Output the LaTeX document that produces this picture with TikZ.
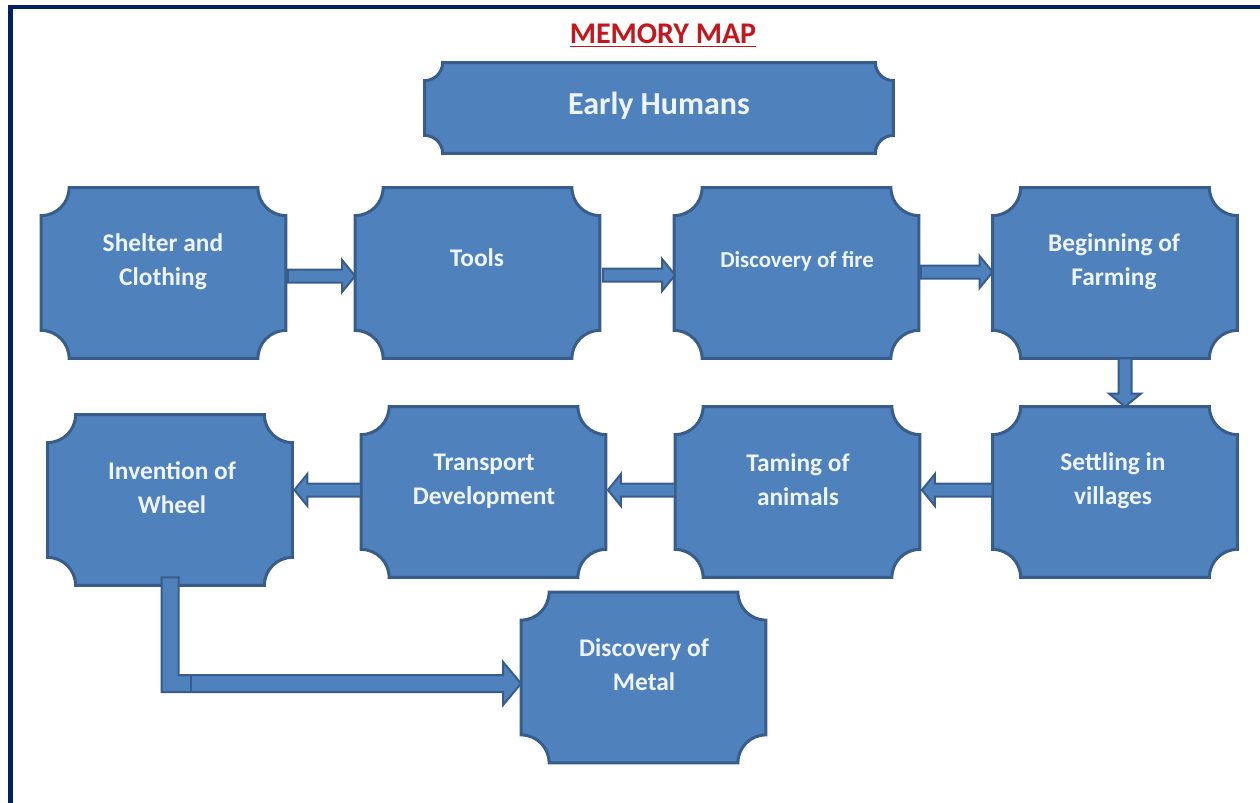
\documentclass[tikz,border=0pt]{standalone}
\usepackage{fontspec}
\setmainfont{Carlito}
\usepackage{tikz}
\usetikzlibrary{calc}

\definecolor{boxblue}{RGB}{79,129,189}
\definecolor{boxedge}{RGB}{56,93,138}
\definecolor{boxtext}{RGB}{238,244,252}
\definecolor{framenavy}{RGB}{0,32,96}
\definecolor{titlered}{RGB}{196,22,28}

% plaque round a node, concave corners of radius #2
\newcommand{\plaque}[2]{%
  \path[plaque] let \p1=(#1.south west), \p2=(#1.north east) in
    (\x1+#2,\y1) -- (\x2-#2,\y1) arc (180:90:#2) -- (\x2,\y2-#2) arc (270:180:#2)
    -- (\x1+#2,\y2) arc (0:-90:#2) -- (\x1,\y1+#2) arc (90:0:#2) -- cycle;}

% block arrow from #1 to #2
\newcommand{\blockarrow}[2]{%
  \coordinate (tail) at #1;
  \coordinate (tip) at #2;
  \coordinate (neck) at ($(tip)!6.5pt!(tail)$);
  \path[arrowbody] ($(tail)!3.25pt!90:(tip)$) -- ($(neck)!3.25pt!90:(tip)$)
    -- ($(neck)!8pt!90:(tip)$) -- (tip) -- ($(neck)!8pt!-90:(tip)$)
    -- ($(neck)!3.25pt!-90:(tip)$) -- ($(tail)!3.25pt!-90:(tip)$) -- cycle;}

\begin{document}
\begin{tikzpicture}
  [x=0.5pt,y=0.5pt,
   box/.style={minimum width=122pt, minimum height=85pt, inner sep=0pt},
   plaque/.style={fill=boxblue, draw=boxedge, line width=1.5pt},
   arrowbody/.style={fill=boxblue, draw=boxedge, line width=1pt},
   txt/.style={text=boxtext, align=center, font=\fontsize{12.7}{17}\selectfont\bfseries},
   title/.style={text=titlered, font=\fontsize{15}{18}\selectfont\bfseries},
   frame/.style={draw=framenavy, line width=2.4pt}]
  \useasboundingbox (0,0) rectangle (1260,-803);
  \draw [frame] (10.5,-803) -- (10.5,-7) -- (1260,-7);

  \node [title] (title) at (663,-36) {\underline{MEMORY MAP}};

  \node [box, minimum width=234pt, minimum height=45pt] (early) at (659,-108) {};

  \node [box] (shelter) at (163.5,-273) {};
  \node [box] (tools) at (477.5,-273) {};
  \node [box] (fire) at (796.5,-273) {};
  \node [box] (farming) at (1115,-273) {};

  \node [box] (wheel) at (170,-500) {};
  \node [box] (transport) at (483.5,-492) {};
  \node [box] (taming) at (797.5,-492) {};
  \node [box] (settling) at (1115,-492) {};

  \node [box] (metal) at (643.5,-677.5) {};

  \plaque{early}{9pt}
  \foreach \b in {shelter,tools,fire,farming,wheel,transport,taming,settling,metal}
    {\plaque{\b}{14pt}}

  \node [txt, font=\fontsize{16}{19}\selectfont\bfseries] (earlyT) at (659,-106) {Early Humans};
  \node [txt] (shelterT) at (163,-262) {Shelter and\\Clothing};
  \node [txt] (toolsT) at (477,-258) {Tools};
  \node [txt, font=\fontsize{11.4}{14}\selectfont\bfseries] (fireT) at (797,-261) {Discovery of fire};
  \node [txt] (farmingT) at (1114,-262) {Beginning of\\Farming};
  \node [txt] (wheelT) at (172,-488) {Invention of\\Wheel};
  \node [txt] (transportT) at (484,-481) {Transport\\Development};
  \node [txt] (tamingT) at (798,-480) {Taming of\\animals};
  \node [txt] (settlingT) at (1113,-481) {Settling in\\villages};
  \node [txt] (metalT) at (644,-665) {Discovery of\\Metal};

  \blockarrow{($(shelter.east)+(2,-3)$)}{($(tools.west)+(0,-3)$)}
  \blockarrow{($(tools.east)+(3,-2)$)}{($(fire.west)+(1,-2)$)}
  \blockarrow{($(fire.east)+(2,1)$)}{($(farming.west)+(0,1)$)}
  \blockarrow{($(farming.south)+(10,0)$)}{($(settling.north)+(10,0)$)}
  \blockarrow{($(settling.west)+(0,2)$)}{($(taming.east)+(2,2)$)}
  \blockarrow{($(taming.west)+(0,2)$)}{($(transport.east)+(2,2)$)}
  \blockarrow{($(transport.west)+(0,2)$)}{($(wheel.east)+(2,10)$)}

  % elbow down from the wheel and on to the metal
  \path [arrowbody] let \p1=(wheel.south), \p2=(metal.west) in
    (\x1-4.25pt,\y1+4pt) -- (\x1-4.25pt,\y2-7.25pt) -- (\x2-9pt,\y2-7.25pt)
    -- (\x2-9pt,\y2-13.75pt) -- (\x2,\y2-3pt) -- (\x2-9pt,\y2+7.75pt)
    -- (\x2-9pt,\y2+1.25pt) -- (\x1+4.25pt,\y2+1.25pt) -- (\x1+4.25pt,\y1+4pt) -- cycle;
  \draw [boxedge, line width=1pt] let \p1=(wheel.south), \p2=(metal.west) in
    (\x1+10.5pt,\y2+1.25pt) -- (\x1+10.5pt,\y2-6.5pt);
\end{tikzpicture}
\end{document}
